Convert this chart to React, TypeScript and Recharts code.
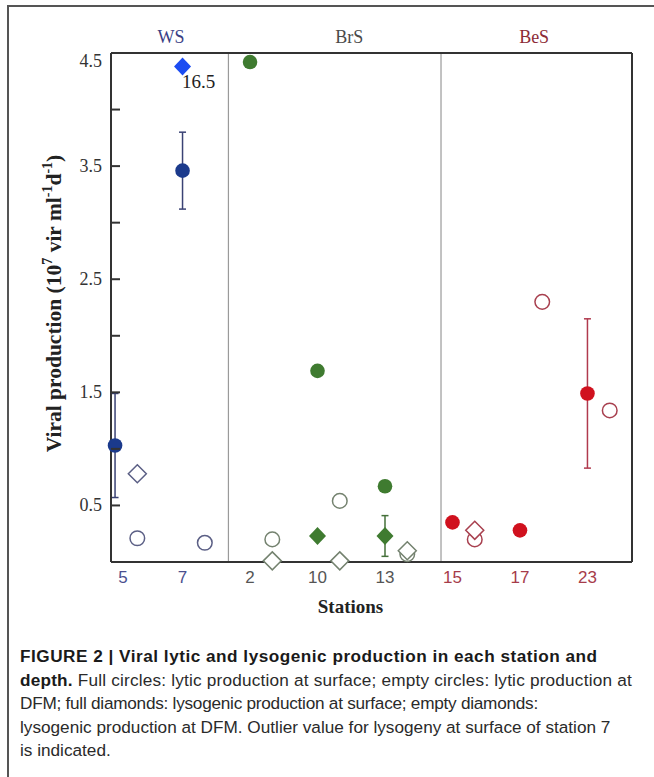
import {
  ComposedChart,
  ErrorBar,
  Label,
  LabelList,
  ReferenceLine,
  Scatter,
  XAxis,
  YAxis
} from 'recharts'

// stations in the order they appear on the x axis
const stations = ['5', '7', '2', '10', '13', '15', '17', '23']
const stationSea = ['WS', 'WS', 'BrS', 'BrS', 'BrS', 'BeS', 'BeS', 'BeS']
const seaNames = ['WS', 'BrS', 'BeS']

// viral production, 10^7 vir ml-1 d-1 (null = no point)
const lyticSurface = [1.03, 3.46, 4.42, 1.69, 0.67, 0.35, 0.28, 1.49]
const lyticSurfaceSd = [0.46, 0.34, null, null, null, null, null, 0.66]
const lyticDfm = [0.21, 0.17, 0.2, 0.54, 0.07, 0.2, 2.3, 1.34]
const lysoSurface = [null, 4.38, null, 0.23, 0.23, null, null, null]
const lysoSurfaceSd = [null, null, null, null, 0.18, null, null, null]
const lysoDfm = [0.78, null, 0.01, 0.01, 0.1, 0.28, null, null]
const lysoSurfaceNote = ['', '16.5', '', '', '', '', '', '']

const yTicks = [0.5, 1, 1.5, 2, 2.5, 3, 3.5, 4, 4.5]
const yLabelled = [0.5, 1.5, 2.5, 3.5, 4.5]

// layout on the station axis
const X_DOMAIN = [-0.06, 7.66]
const DFM_SHIFT = 0.33
const SEA_BOUNDS = [1.68, 4.83]
const SEA_CENTERS = [0.83, 3.47, 6.21]

const colors: Record<string, any> = {
  WS: { full: '#1b3a8c', lyso: '#1c4cf2', open: '#5b5f85', bar: '#3a4274', tick: '#4b4f8e', head: '#3b3f86' },
  BrS: { full: '#3f7b30', lyso: '#3f7b30', open: '#74826f', bar: '#45703a', tick: '#555555', head: '#4a4a4a' },
  BeS: { full: '#d0111e', lyso: '#d0111e', open: '#a8404f', bar: '#b03a4e', tick: '#a63c4a', head: '#8c2b36' }
}

const AXIS = '#333'
const SERIF = '"Liberation Serif", "Times New Roman", serif'
const SANS = '"Liberation Sans", Arial, sans-serif'

function points(vals: (number | null)[], sds: (number | null)[] | null, shift: number, notes?: string[]) {
  return vals.flatMap((v, i) =>
    v == null
      ? []
      : [{ x: i + shift, y: v, sd: sds ? sds[i] : null, sea: stationSea[i], note: notes ? notes[i] : '' }]
  )
}

const lyticSurfacePts = points(lyticSurface, lyticSurfaceSd, 0)
const lyticDfmPts = points(lyticDfm, null, DFM_SHIFT)
const lysoSurfacePts = points(lysoSurface, lysoSurfaceSd, 0, lysoSurfaceNote)
const lysoDfmPts = points(lysoDfm, null, DFM_SHIFT)

const diamond = (cx: number, cy: number, hw: number, hh: number) =>
  `M${cx},${cy - hh}L${cx + hw},${cy}L${cx},${cy + hh}L${cx - hw},${cy}Z`

const StationTick = (props: any) => {
  const { x, y, payload } = props
  const i = payload.value
  return (
    <text x={x + (i === 0 ? 8 : 0)} y={y + 21} textAnchor="middle" fontFamily={SANS} fontSize={17}
      fill={colors[stationSea[i]].tick}>
      {stations[i]}
    </text>
  )
}

const seaLabel = (name: string) => (props: any) => {
  const vb = props.viewBox
  return (
    <text x={vb.x} y={vb.y - 10} textAnchor="middle" fontFamily={SERIF} fontSize={18} fill={colors[name].head}>
      {name}
    </text>
  )
}

const LeftTick = (props: any) => {
  const { x, y, payload } = props
  const v = payload.value
  return (
    <g>
      {v < 4.5 && <line x1={x} x2={x + 9} y1={y} y2={y} stroke={AXIS} strokeWidth={2} />}
      {yLabelled.includes(v) && (
        <text x={x - 9} y={y + (v === 4.5 ? 14 : 6)} textAnchor="end" fontFamily={SERIF} fontSize={18} fill="#333">
          {v.toFixed(1)}
        </text>
      )}
    </g>
  )
}

const RightTick = (props: any) => {
  const { x, y, payload } = props
  if (payload.value >= 4.5) return <g />
  return <line x1={x} x2={x - 9} y1={y} y2={y} stroke={AXIS} strokeWidth={2} />
}

const YTitle = (props: any) => {
  const vb = props.viewBox
  const x = vb.x + vb.width - 50
  const y = vb.y + vb.height / 2 - 4
  return (
    <text transform={`rotate(-90 ${x} ${y})`} x={x} y={y} textAnchor="middle" fontFamily={SERIF}
      fontWeight="bold" fontSize={21.5} fill="#222">
      Viral production (10<tspan dy={-9} fontSize={14}>7</tspan>
      <tspan dy={9}> vir ml</tspan>
      <tspan dy={-9} fontSize={14}>-1</tspan>
      <tspan dy={9}>d</tspan>
      <tspan dy={-9} fontSize={14}>-1</tspan>
      <tspan dy={9}>)</tspan>
    </text>
  )
}

const XTitle = (props: any) => {
  const vb = props.viewBox
  return (
    <text x={vb.x + vb.width / 2 - 21} y={vb.y + 51} textAnchor="middle" fontFamily={SERIF}
      fontWeight="bold" fontSize={19} fill="#222">
      Stations
    </text>
  )
}

const NoteLabel = (props: any) => {
  const { x, y, value } = props
  if (!value) return null
  return (
    <text x={x + 4} y={y + 26} fontFamily={SERIF} fontSize={19} fill="#222">
      {value}
    </text>
  )
}

export default function App() {
  return (
    <div style={{ position: 'absolute', left: 0, top: 0, width: 654, height: 777, background: '#fff' }}>
      <div
        style={{
          position: 'absolute', left: 7, top: 5, right: 0, bottom: 0,
          borderTop: '2px solid #555', borderLeft: '2px solid #555'
        }}
      />
      <div style={{ position: 'absolute', left: 0, top: 0 }}>
        <ComposedChart width={654} height={625} margin={{ top: 23, right: 12, bottom: 3, left: 31 }}>
          <XAxis type="number" dataKey="x" domain={X_DOMAIN}
            ticks={stations.map((_, i) => i)} interval={0} tick={StationTick}
            tickLine={false} tickSize={0} tickMargin={0} height={60}
            axisLine={{ stroke: AXIS, strokeWidth: 2 }}>
            <Label content={XTitle} />
          </XAxis>
          <XAxis xAxisId="top" orientation="top" type="number" domain={X_DOMAIN}
            tick={false} tickLine={false} height={30}
            axisLine={{ stroke: AXIS, strokeWidth: 2 }} />
          <YAxis type="number" dataKey="y" domain={[0, 4.5]}
            ticks={yTicks} interval={0} tick={LeftTick}
            tickLine={false} tickSize={0} tickMargin={0} width={80}
            axisLine={{ stroke: AXIS, strokeWidth: 2 }}>
            <Label content={YTitle} />
          </YAxis>
          <YAxis yAxisId="right" orientation="right" type="number" domain={[0, 4.5]}
            ticks={yTicks} interval={0} tick={RightTick}
            tickLine={false} tickSize={0} tickMargin={0} width={10}
            axisLine={{ stroke: AXIS, strokeWidth: 2 }} />

          {SEA_BOUNDS.map((b) => (
            <ReferenceLine key={b} x={b} stroke="#9a9a9a" strokeWidth={1.2} />
          ))}
          {seaNames.map((name, i) => (
            <ReferenceLine key={name} x={SEA_CENTERS[i]} stroke="none" label={seaLabel(name)} />
          ))}

          {seaNames.map((sea) => {
            const c = colors[sea]
            return [
              <Scatter key={sea + 'ld'} data={lyticDfmPts.filter((p) => p.sea === sea)} isAnimationActive={false}
                shape={(p: any) => <circle cx={p.cx} cy={p.cy} r={7.3} fill="#fff" stroke={c.open} strokeWidth={1.5} />} />,
              <Scatter key={sea + 'yd'} data={lysoDfmPts.filter((p) => p.sea === sea)} isAnimationActive={false}
                shape={(p: any) => <path d={diamond(p.cx, p.cy, 9, 9)} fill="#fff" stroke={c.open} strokeWidth={1.5} />} />,
              <Scatter key={sea + 'ys'} data={lysoSurfacePts.filter((p) => p.sea === sea)} isAnimationActive={false}
                shape={(p: any) => <path d={diamond(p.cx, p.cy, 8.5, 9)} fill={c.lyso} />}>
                <ErrorBar dataKey="sd" direction="y" width={3.5} stroke={c.bar} strokeWidth={1.5} />
                <LabelList dataKey="note" content={NoteLabel} />
              </Scatter>,
              <Scatter key={sea + 'ls'} data={lyticSurfacePts.filter((p) => p.sea === sea)} isAnimationActive={false}
                shape={(p: any) => <circle cx={p.cx} cy={p.cy} r={7.3} fill={c.full} />}>
                <ErrorBar dataKey="sd" direction="y" width={3.5} stroke={c.bar} strokeWidth={1.5} />
              </Scatter>
            ]
          })}
        </ComposedChart>
      </div>
      <div
        style={{
          position: 'absolute', left: 20, top: 645, whiteSpace: 'nowrap',
          fontFamily: SANS, fontSize: 17.2, lineHeight: '23.5px', color: '#2a2a2a'
        }}
      >
        <b style={{ color: '#1a1a1a', letterSpacing: 0.5 }}>FIGURE 2 | Viral lytic and lysogenic production in each station and</b>
        <br />
        <span style={{ letterSpacing: 0.2 }}>
          <b style={{ color: '#1a1a1a' }}>depth.</b> Full circles: lytic production at surface; empty circles: lytic production at
        </span>
        <br />
        <span style={{ letterSpacing: -0.25 }}>DFM; full diamonds: lysogenic production at surface; empty diamonds:</span>
        <br />
        lysogenic production at DFM. Outlier value for lysogeny at surface of station 7
        <br />
        is indicated.
      </div>
    </div>
  )
}
